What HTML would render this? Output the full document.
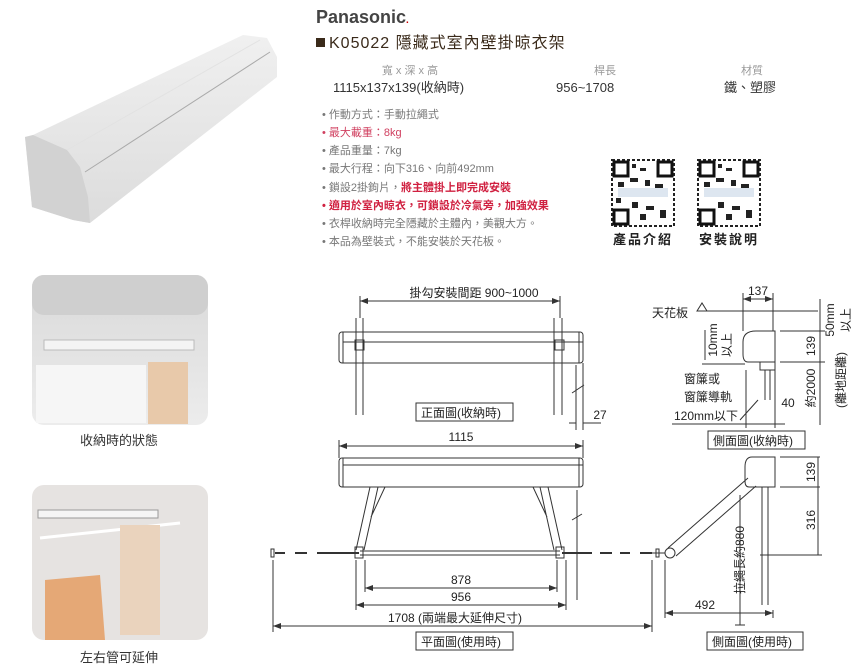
<!DOCTYPE html>
<html><head><meta charset="utf-8"><style>
body{margin:0;width:859px;height:669px;background:#fff;overflow:hidden;font-family:"Liberation Sans","Noto Sans CJK TC",sans-serif}
svg{display:block}
text{font-family:"Liberation Sans","Noto Sans CJK TC",sans-serif}
</style></head><body>
<svg width="859" height="669" viewBox="0 0 859 669" xmlns="http://www.w3.org/2000/svg">
<defs>
<linearGradient id="rail" x1="0" y1="0" x2="0" y2="1"><stop offset="0" stop-color="#f0f0f0"/><stop offset="1" stop-color="#dcdcdc"/></linearGradient>
<linearGradient id="wall" x1="0" y1="0" x2="0" y2="1"><stop offset="0" stop-color="#d9d9d9"/><stop offset="1" stop-color="#ececec"/></linearGradient>
<marker id="a" markerWidth="8" markerHeight="6" refX="8" refY="3" orient="auto-start-reverse"><path d="M0,0 L8,3 L0,6 z" fill="#333"/></marker>
</defs>
<!-- product image -->
<polygon points="33,135 243,35 267,38 277,57 277,77 90,223 73,220 32,207 25,137" fill="url(#rail)"/>
<polygon points="25,137 33,135 67,150 80,167 88,197 90,223 73,220 32,207" fill="#d2d2d2"/>
<line x1="85" y1="172" x2="270" y2="52" stroke="#aaa"/>
<line x1="67" y1="150" x2="260" y2="40" stroke="#e2e2e2"/>
<!-- photo 1 -->
<rect x="32" y="275" width="176" height="150" rx="12" fill="url(#wall)"/>
<rect x="32" y="275" width="176" height="40" rx="12" fill="#cfcfcf"/>
<rect x="44" y="340" width="150" height="10" fill="#f4f4f4" stroke="#bbb"/>
<rect x="36" y="365" width="110" height="58" fill="#f6f6f6"/>
<rect x="148" y="362" width="40" height="62" fill="#e8c9aa"/>
<text x="119" y="445" font-size="13" text-anchor="middle" fill="#333">收納時的狀態</text>
<!-- photo 2 -->
<rect x="32" y="485" width="176" height="155" rx="12" fill="#e6e3e1"/>
<rect x="38" y="510" width="120" height="8" fill="#f5f5f5" stroke="#999"/>
<line x1="40" y1="538" x2="180" y2="523" stroke="#fff" stroke-width="3"/>
<rect x="120" y="525" width="40" height="110" fill="#ead3bd"/>
<polygon points="45,580 100,575 105,640 45,640" fill="#e5a876"/>
<text x="119" y="662" font-size="13" text-anchor="middle" fill="#333">左右管可延伸</text>

<!-- header -->
<text x="316" y="23" font-size="18" font-weight="bold" fill="#444">Panasonic<tspan fill="#c00" font-size="10">.</tspan></text>
<rect x="316" y="38" width="9" height="9" fill="#3a2a1a"/>
<text x="329" y="48" font-size="16" fill="#3a2a1a" letter-spacing="1">K05022  隱藏式室內壁掛晾衣架</text>
<g font-size="11" fill="#999" text-anchor="middle"><text x="410" y="74">寬 x 深 x 高</text><text x="605" y="74">桿長</text><text x="752" y="74">材質</text></g>
<g font-size="13" fill="#333"><text x="333" y="92">1115x137x139(收納時)</text><text x="556" y="92">956~1708</text><text x="724" y="92">鐵、塑膠</text></g>
<g font-size="11" fill="#777">
<text x="322" y="118">• 作動方式：手動拉繩式</text>
<text x="322" y="136" fill="#d04060">• 最大載重：8kg</text>
<text x="322" y="154">• 產品重量：7kg</text>
<text x="322" y="172">• 最大行程：向下316、向前492mm</text>
<text x="322" y="191">• 鎖設2掛鉤片，<tspan fill="#d02040" font-weight="bold">將主體掛上即完成安裝</tspan></text>
<text x="322" y="209" fill="#d02040" font-weight="bold">• 適用於室內晾衣，可鎖設於冷氣旁，加強效果</text>
<text x="322" y="227">• 衣桿收納時完全隱藏於主體內，美觀大方。</text>
<text x="322" y="245">• 本品為壁裝式，不能安裝於天花板。</text>
</g>
<!-- QR -->
<g>
<rect x="612" y="160" width="62" height="66" fill="none" stroke="#222" stroke-width="2" stroke-dasharray="3 2"/>
<rect x="614" y="162" width="14" height="14" fill="none" stroke="#111" stroke-width="3"/><rect x="658" y="162" width="14" height="14" fill="none" stroke="#111" stroke-width="3"/><rect x="614" y="210" width="14" height="14" fill="none" stroke="#111" stroke-width="3"/>
<path d="M632 164h4v4h-4zM640 168h6v3h-6zM630 178h8v4h-8zM645 180h5v6h-5zM618 182h6v5h-6zM655 184h8v4h-8zM632 202h6v6h-6zM646 206h8v4h-8zM660 210h6v8h-6zM640 214h6v6h-6zM616 198h5v5h-5z" fill="#222"/>
<rect x="618" y="188" width="50" height="9" fill="#dde6f0"/>
<rect x="698" y="160" width="62" height="66" fill="none" stroke="#222" stroke-width="2" stroke-dasharray="3 2"/>
<rect x="700" y="162" width="14" height="14" fill="none" stroke="#111" stroke-width="3"/><rect x="744" y="162" width="14" height="14" fill="none" stroke="#111" stroke-width="3"/><rect x="700" y="210" width="14" height="14" fill="none" stroke="#111" stroke-width="3"/>
<path d="M718 164h4v4h-4zM726 168h6v3h-6zM716 178h8v4h-8zM731 180h5v6h-5zM704 182h6v5h-6zM741 184h8v4h-8zM718 202h6v6h-6zM732 206h8v4h-8zM746 210h6v8h-6zM726 214h6v6h-6z" fill="#222"/>
<rect x="704" y="188" width="50" height="9" fill="#dde6f0"/>
</g>
<g font-size="13" font-weight="bold" fill="#222" text-anchor="middle"><text x="643" y="244" letter-spacing="2">產品介紹</text><text x="729" y="244" letter-spacing="2">安裝說明</text></g>

<!-- diagrams -->
<g stroke="#333" fill="none" stroke-width="1">
<line x1="360" y1="301" x2="560" y2="301" marker-start="url(#a)" marker-end="url(#a)"/>
<line x1="360" y1="296" x2="360" y2="318"/><line x1="560" y1="296" x2="560" y2="318"/>
<rect x="339" y="332" width="244" height="31" rx="3" fill="#fff"/>
<line x1="343" y1="342" x2="583" y2="342"/><line x1="343" y1="332" x2="343" y2="363"/><line x1="579" y1="332" x2="579" y2="363"/>
<path d="M356 318v97M363 318v97M554 318v97M562 318v97M355 340h9v10h-9zM555 340h9v10h-9z"/>
<path d="M576 365v65M583 363v67M572 393l12-8M569 423h7M583 423h18" />
<line x1="339" y1="446" x2="583" y2="446" marker-start="url(#a)" marker-end="url(#a)"/>
<line x1="339" y1="440" x2="339" y2="458"/><line x1="583" y1="440" x2="583" y2="458"/>
<rect x="339" y="458" width="244" height="29" rx="3" fill="#fff"/>
<line x1="343" y1="465" x2="583" y2="465"/><line x1="343" y1="458" x2="343" y2="487"/><line x1="579" y1="458" x2="579" y2="487"/>
<path d="M370 487l-14 63M378 487l-14 63M385 487l-14 30M540 487l14 63M548 487l14 63M533 487l14 30"/>
<path d="M360 551h200M360 555h200"/>
<rect x="355" y="547" width="8" height="11"/><rect x="556" y="547" width="8" height="11"/>
<path d="M275 553h10M295 553h12M317 553h42M562 553h30M600 553h12M620 553h10M640 553h12" stroke-width="2"/>
<rect x="271" y="549" width="3" height="8"/><rect x="656" y="549" width="3" height="8"/>
<path d="M577 490v110M572 520l10-6"/>
<line x1="365" y1="588" x2="557" y2="588" marker-start="url(#a)" marker-end="url(#a)"/>
<line x1="356" y1="605" x2="566" y2="605" marker-start="url(#a)" marker-end="url(#a)"/>
<path d="M365 560v32M557 560v32M356 560v50M566 560v50"/>
<line x1="273" y1="626" x2="652" y2="626" marker-start="url(#a)" marker-end="url(#a)"/>
<path d="M273 560v72M652 560v72"/>
<line x1="743" y1="299" x2="773" y2="299" marker-start="url(#a)" marker-end="url(#a)"/>
<path d="M743 293v38M773 293v38"/>
<path d="M700 311h118M697 311l5-8 5 8z"/>
<path d="M756 331h19v31h-27q-5 0-5-8v-12q0-11 13-11z" fill="#fff"/>
<path d="M760 362h15v8h-15zM765 370v30M770 370v30"/>
<path d="M780 331h45M780 362h45M820 299v126M702 364h43M705 330v30"/>
<line x1="743" y1="424" x2="785" y2="424"/>
<path d="M672 424h113M746 370v58M775 370v58M758 400l-18 20"/>
<path d="M752 457h23v30h-26q-4 0-4-6v-14q0-10 7-10z" fill="#fff"/>
<path d="M762 487v118M768 487v118"/>
<path d="M748 478l-80 70M756 486l-80 70"/>
<circle cx="670" cy="553" r="5" fill="#fff"/>
<path d="M650 553h15M780 457h40M780 487h40M818 457v98M760 555h62M740 495v130M735 625h10"/>
<line x1="665" y1="613" x2="773" y2="613" marker-start="url(#a)" marker-end="url(#a)"/>
<path d="M665 560v58M773 610v8"/>
</g>
<g font-size="12" fill="#222" text-anchor="middle">
<text x="474" y="297">掛勾安裝間距 900~1000</text>
<text x="600" y="419">27</text>
<text x="461" y="441">1115</text>
<text x="461" y="584">878</text>
<text x="461" y="601">956</text>
<text x="455" y="622">1708 (兩端最大延伸尺寸)</text>
<text x="758" y="295">137</text>
<text x="670" y="317">天花板</text>
<text x="702" y="383">窗簾或</text>
<text x="708" y="401">窗簾導軌</text>
<text x="706" y="420">120mm以下</text>
<text x="788" y="407">40</text>
<text x="705" y="609">492</text>
<text transform="translate(834,320) rotate(-90)">50mm</text>
<text transform="translate(850,320) rotate(-90)">以上</text>
<text transform="translate(815,346) rotate(-90)">139</text>
<text transform="translate(717,340) rotate(-90)">10mm</text>
<text transform="translate(731,345) rotate(-90)">以上</text>
<text transform="translate(815,388) rotate(-90)">約2000</text>
<text transform="translate(845,380) rotate(-90)">(離地距離)</text>
<text transform="translate(815,472) rotate(-90)">139</text>
<text transform="translate(815,520) rotate(-90)">316</text>
<text transform="translate(744,560) rotate(-90)">拉繩長約880</text>
</g>
<g font-size="12" fill="#222">
<rect x="416" y="403" width="97" height="18" fill="#fff" stroke="#333"/><text x="421" y="417">正面圖(收納時)</text>
<rect x="416" y="632" width="97" height="18" fill="#fff" stroke="#333"/><text x="421" y="646">平面圖(使用時)</text>
<rect x="708" y="431" width="97" height="18" fill="#fff" stroke="#333"/><text x="713" y="445">側面圖(收納時)</text>
<rect x="707" y="632" width="96" height="18" fill="#fff" stroke="#333"/><text x="712" y="646">側面圖(使用時)</text>
</g>
</svg>
</body></html>
